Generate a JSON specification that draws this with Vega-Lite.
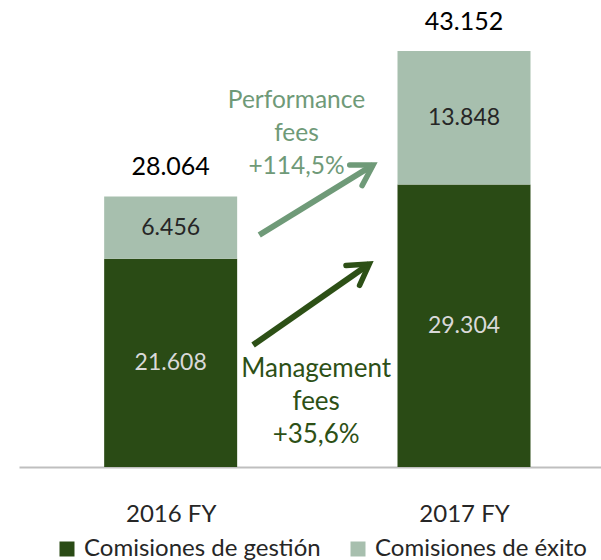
{
  "$schema": "https://vega.github.io/schema/vega-lite/v6.json",
  "width": 582,
  "height": 467,
  "autosize": {"type": "none"},
  "padding": {"left": 19, "top": 0, "right": 0, "bottom": 93},
  "config": {
    "view": {"stroke": null},
    "font": "Lato",
    "locale": {"number": {"decimal": ",", "thousands": ".", "grouping": [3], "currency": ["", "€"]}}
  },
  "datasets": {
    "fees": [
      {"yr": 2016, "type": "Comisiones de gestión", "value": 21608},
      {"yr": 2016, "type": "Comisiones de éxito", "value": 6456},
      {"yr": 2017, "type": "Comisiones de gestión", "value": 29304},
      {"yr": 2017, "type": "Comisiones de éxito", "value": 13848}
    ],
    "arrows": [
      {"name": "Management", "x1": 2016.281, "y1": 12650, "x2": 2016.677, "y2": 21050},
      {"name": "Performance", "x1": 2016.302, "y1": 24060, "x2": 2016.69, "y2": 31320}
    ],
    "notes": [
      {"name": "Performance", "x": 2016.429, "y": 37950, "text": ["Performance", "fees", "+114,5%"]},
      {"name": "Management", "x": 2016.496, "y": 10160, "text": ["Management", "fees", "+35,6%"]}
    ]
  },
  "layer": [
    {
      "data": {"name": "fees"},
      "mark": {"type": "bar", "width": 133},
      "encoding": {
        "x": {
          "field": "yr", "type": "quantitative",
          "scale": {"domain": [2015.5, 2017.45], "nice": false, "zero": false},
          "axis": {
            "title": null, "values": [2016, 2017], "labelExpr": "datum.value + ' FY'",
            "grid": false, "ticks": false, "domainColor": "#bfbfbf", "domainWidth": 2,
            "labelFontSize": 24, "labelColor": "#262626", "labelPadding": 35, "labelFont": "Lato"
          }
        },
        "y": {
          "field": "value", "type": "quantitative", "stack": "zero",
          "scale": {"domain": [0, 48443], "nice": false}, "axis": null
        },
        "color": {
          "field": "type", "type": "nominal",
          "scale": {"domain": ["Comisiones de gestión", "Comisiones de éxito"], "range": ["#2a4b15", "#a7bfae"]},
          "legend": {
            "orient": "none", "legendX": 36, "legendY": 537, "direction": "horizontal",
            "title": null, "symbolType": "square", "symbolSize": 225, "labelFontSize": 24,
            "labelLimit": 0, "columnPadding": 25, "labelOffset": 5, "symbolStrokeWidth": 0,
            "labelColor": "#262626", "labelFont": "Lato"
          }
        },
        "order": {"field": "type", "sort": "ascending"}
      }
    },
    {
      "data": {"name": "fees"},
      "transform": [
        {"stack": "value", "groupby": ["yr"], "sort": [{"field": "type", "order": "ascending"}], "as": ["y0", "y1"]},
        {"fold": ["y0", "y1"], "as": ["k", "v"]},
        {"aggregate": [{"op": "mean", "field": "v", "as": "mid"}], "groupby": ["yr", "type", "value"]}
      ],
      "mark": {"type": "text", "fontSize": 23, "baseline": "middle", "align": "center"},
      "encoding": {
        "x": {"field": "yr", "type": "quantitative", "title": null},
        "y": {"field": "mid", "type": "quantitative", "axis": null},
        "text": {"field": "value", "type": "quantitative", "format": ",d"},
        "color": {"condition": {"test": "datum.type == 'Comisiones de gestión'", "value": "#d9d9d9"}, "value": "#262626"}
      }
    },
    {
      "data": {"name": "fees"},
      "transform": [
        {"aggregate": [{"op": "sum", "field": "value", "as": "total"}], "groupby": ["yr"]}
      ],
      "mark": {"type": "text", "fontSize": 25, "baseline": "middle", "align": "center", "dy": -29, "color": "#000000"},
      "encoding": {
        "x": {"field": "yr", "type": "quantitative", "title": null},
        "y": {"field": "total", "type": "quantitative", "axis": null},
        "text": {"field": "total", "type": "quantitative", "format": ",d"}
      }
    },
    {
      "data": {"name": "arrows"},
      "mark": {"type": "rule", "strokeWidth": 6},
      "encoding": {
        "x": {"field": "x1", "type": "quantitative", "title": null},
        "y": {"field": "y1", "type": "quantitative", "axis": null},
        "x2": {"field": "x2"},
        "y2": {"field": "y2"},
        "color": {"condition": {"test": "datum.name == 'Management'", "value": "#2d5016"}, "value": "#6f9a78"}
      }
    },
    {
      "data": {"name": "arrows"},
      "mark": {"type": "point", "shape": "M -0.6 1 L 0 0 L 0.6 1", "size": 1600, "filled": false, "strokeWidth": 5.5, "strokeJoin": "miter", "strokeCap": "round", "opacity": 1},
      "encoding": {
        "x": {"field": "x2", "type": "quantitative", "title": null},
        "y": {"field": "y2", "type": "quantitative", "axis": null},
        "angle": {"condition": {"test": "datum.name == 'Management'", "value": 55.5}, "value": 59},
        "color": {"condition": {"test": "datum.name == 'Management'", "value": "#2d5016"}, "value": "#6f9a78"}
      }
    },
    {
      "data": {"name": "notes"},
      "mark": {"type": "text", "baseline": "middle", "align": "center", "lineHeight": 33},
      "encoding": {
        "x": {"field": "x", "type": "quantitative", "title": null},
        "y": {"field": "y", "type": "quantitative", "axis": null},
        "text": {"field": "text"},
        "size": {"condition": {"test": "datum.name == 'Management'", "value": 26}, "value": 24.5},
        "color": {"condition": {"test": "datum.name == 'Management'", "value": "#2d5016"}, "value": "#6f9a78"}
      }
    }
  ]
}
